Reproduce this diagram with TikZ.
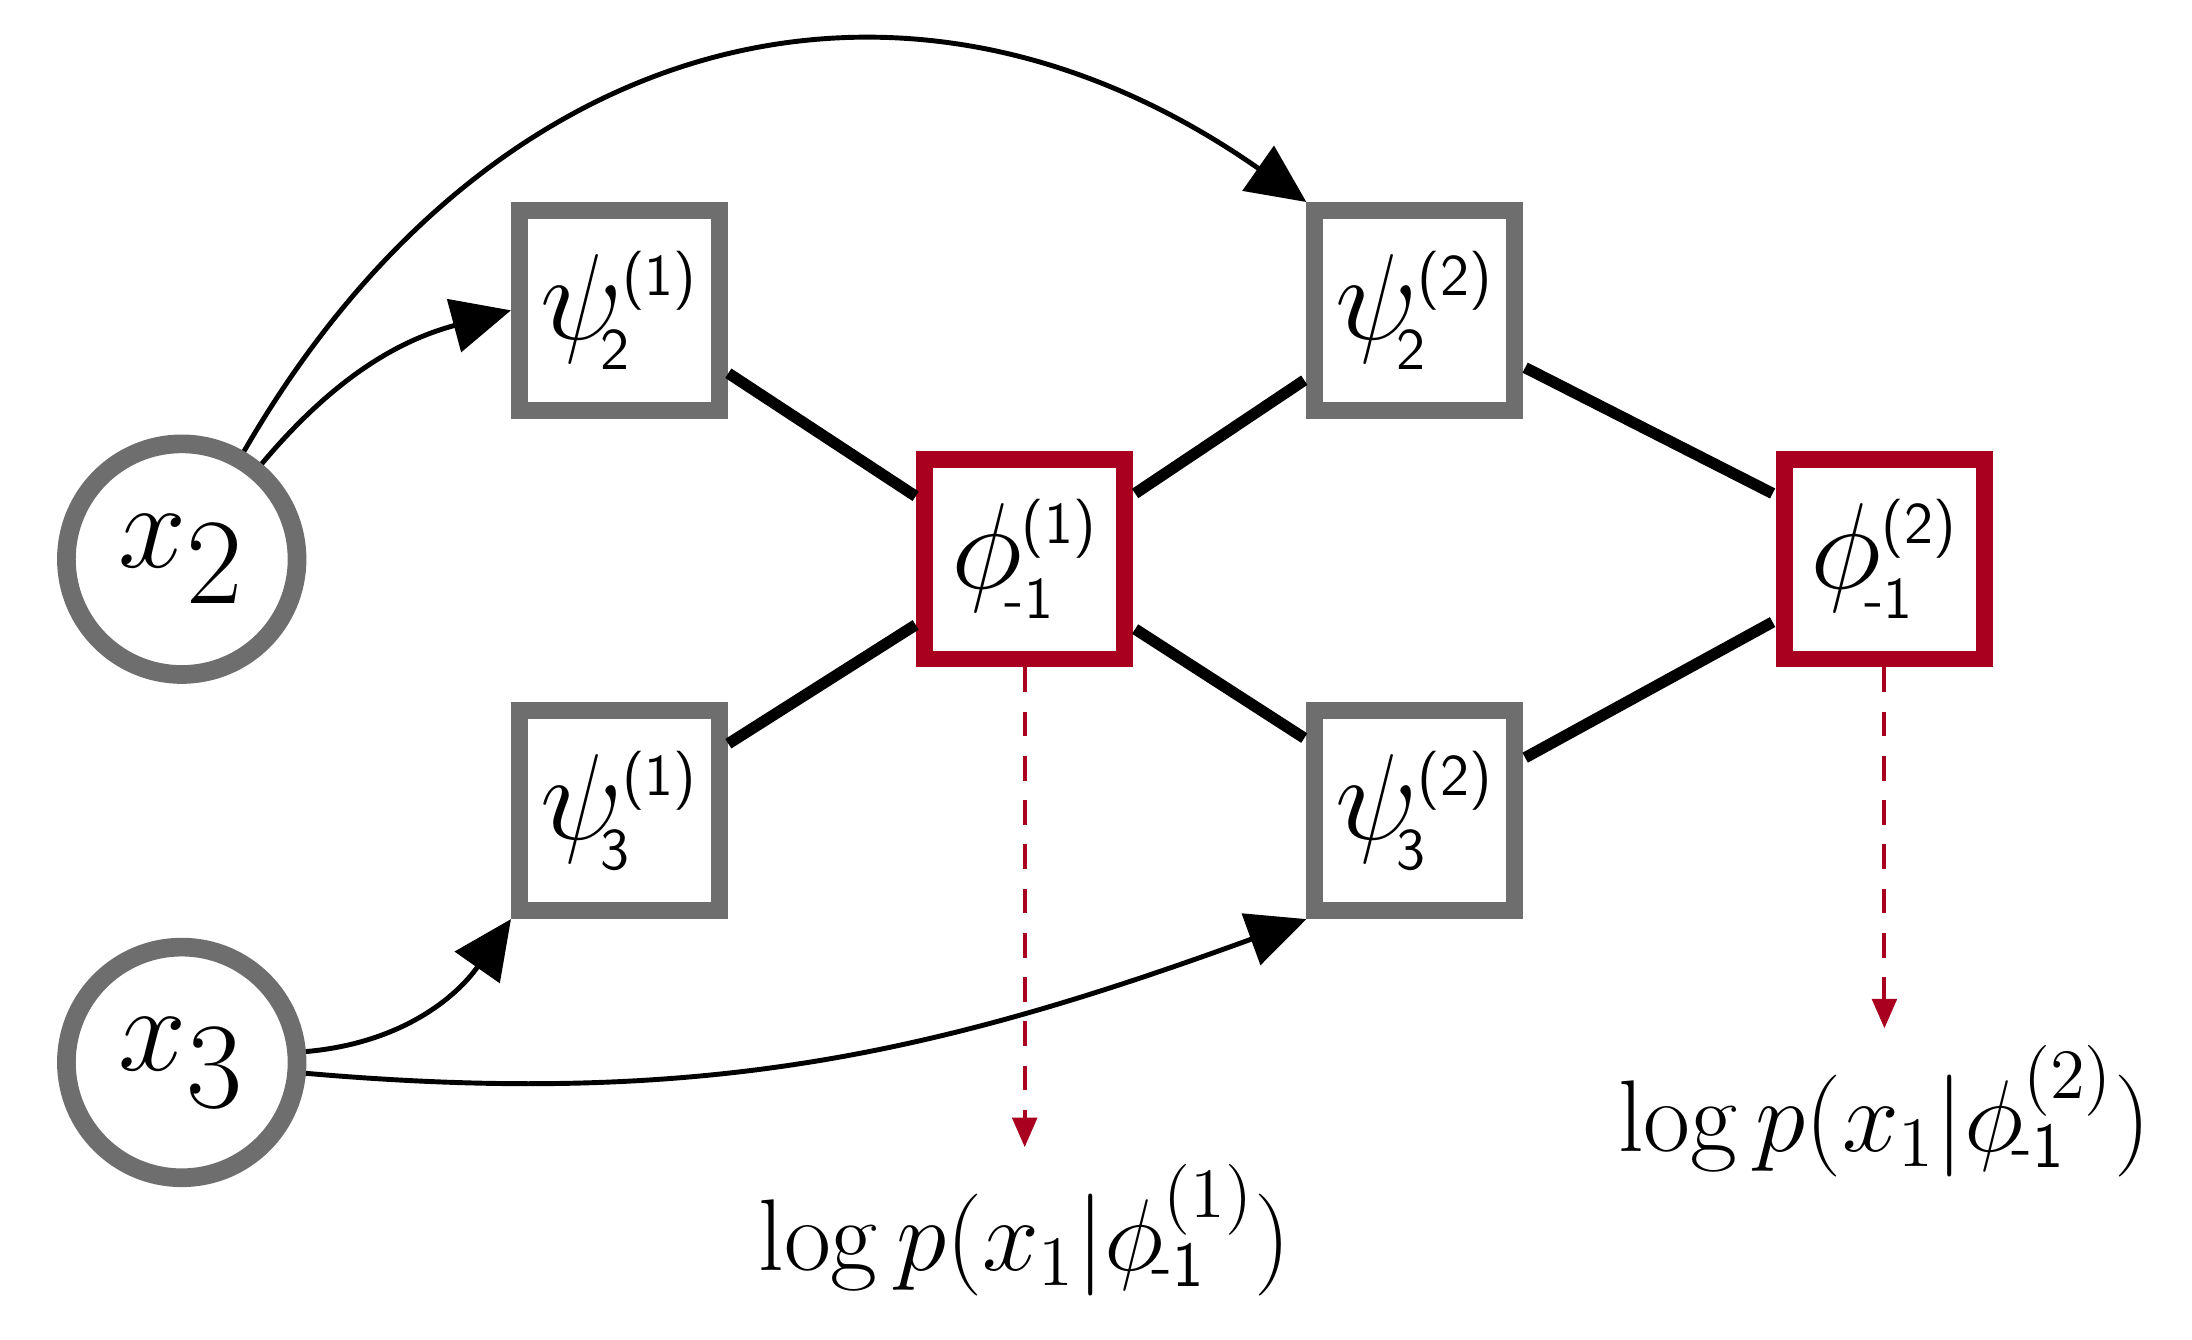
\documentclass[tikz,border=0pt]{standalone}
\usetikzlibrary{arrows.meta}
\definecolor{myred}{HTML}{A8001E}
\definecolor{mygray}{HTML}{6E6E6E}
\begin{document}
\begin{tikzpicture}[x=0.01cm,y=-0.01cm,
  var/.style={circle,draw=mygray,line width=3.8pt,fill=white,minimum size=165*0.01cm,inner sep=0pt,font=\fontsize{36}{40}\selectfont},
  fac/.style={rectangle,draw=mygray,line width=3.4pt,fill=white,minimum size=143*0.01cm,inner sep=0pt,font=\fontsize{32}{36}\selectfont},
  rfac/.style={fac,draw=myred},
  edge/.style={line width=2.3pt},
  arr/.style={line width=1pt,-{Triangle[length=12pt,width=11pt]}},
  darr/.style={myred,line width=0.8pt,dashed,dash pattern=on 5pt off 4pt,-{Triangle[length=6pt,width=5pt]}},
  lab/.style={font=\fontsize{21}{25}\selectfont}]
\useasboundingbox (0,0) rectangle (1568,958);
\newcommand{\sml}[1]{\hbox{\fontsize{12}{12}\sffamily #1}}
\newcommand{\fsup}[3]{$#1^{\sml{(#2)}}_{\!\sml{#3}}$}
\node[var] (x2) at (130,400) {$x_2$};
\node[var] (x3) at (130,760) {$x_3$};
\node[fac] (p21) at (443,222) {\fsup{\psi}{1}{2}};
\node[fac] (p31) at (443,580) {\fsup{\psi}{1}{3}};
\node[rfac] (f1) at (733,400) {\fsup{\phi}{1}{-1}};
\node[fac] (p22) at (1012,222) {\fsup{\psi}{2}{2}};
\node[fac] (p32) at (1012,580) {\fsup{\psi}{2}{3}};
\node[rfac] (f2) at (1348,400) {\fsup{\phi}{2}{-1}};
\draw[edge] (521,267) -- (655,355);
\draw[edge] (521,532) -- (655,447);
\draw[edge] (812,353) -- (933,272);
\draw[edge] (812,450) -- (933,528);
\draw[edge] (1091,263) -- (1268,353);
\draw[edge] (1091,542) -- (1268,445);
\draw[arr] (x2) to[out=50,in=195] (p21.west);
\draw[arr] (x2) to[out=60,in=145,looseness=1.15] (p22.north west);
\draw[arr] (x3) to[out=5,in=235] (p31.south west);
\draw[arr] (x3) to[out=-5,in=200] (p32.south west);
\node[lab] (l1) at (733,880) {$\log p(x_1|\phi^{(1)}_{\!\hbox{\fontsize{13}{13}\sffamily -1}})$};
\node[lab] (l2) at (1348,795) {$\log p(x_1|\phi^{(2)}_{\!\hbox{\fontsize{13}{13}\sffamily -1}})$};
\draw[darr] (f1.south) -- (l1.north);
\draw[darr] (f2.south) -- (l2.north);
\end{tikzpicture}
\end{document}
